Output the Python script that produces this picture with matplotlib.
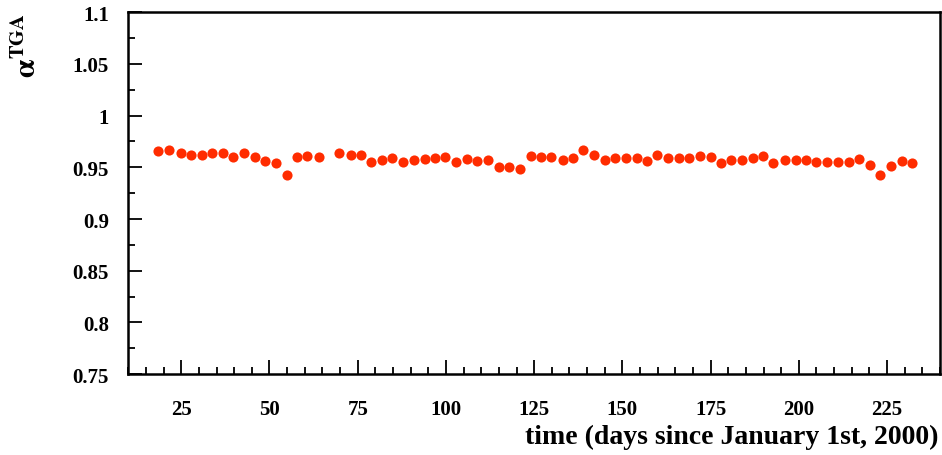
import matplotlib
matplotlib.use("Agg")
import matplotlib.pyplot as plt
from matplotlib.ticker import MultipleLocator

# time in days since Jan 1st 2000 and alpha TGA
days = [18.5, 21.6, 24.8, 27.8, 30.8, 33.8, 36.7, 39.7, 42.8, 45.8,
        48.8, 51.8, 54.9, 57.7, 60.7, 63.9,
        69.7, 73.0, 75.8, 78.7, 81.9, 84.7, 87.9, 90.9, 94.0, 97.0,
        99.8, 102.8, 105.9, 108.7, 111.9, 114.9, 117.8, 121.0,
        124.0, 126.8, 129.8, 133.1, 135.9, 138.7, 141.9, 145.0, 148.0,
        151.0, 154.0, 156.9, 159.9, 162.9, 166.1, 168.9, 172.0, 175.0,
        177.9, 180.9, 184.0, 187.1, 189.9, 192.7, 196.0, 199.1, 202.0,
        205.0, 208.0, 211.1, 214.1, 217.1, 220.1, 222.9, 226.1, 229.2,
        232.2]
alpha = [0.966, 0.967, 0.9635, 0.962, 0.962, 0.964, 0.964, 0.960, 0.964, 0.960,
         0.956, 0.954, 0.943, 0.960, 0.961, 0.960,
         0.964, 0.962, 0.962, 0.955, 0.957, 0.959, 0.955, 0.957, 0.958, 0.959,
         0.960, 0.955, 0.958, 0.956, 0.957, 0.9505, 0.9505, 0.948,
         0.961, 0.960, 0.960, 0.957, 0.959, 0.967, 0.962, 0.957, 0.959,
         0.959, 0.959, 0.9565, 0.962, 0.959, 0.959, 0.959, 0.961, 0.960,
         0.9545, 0.957, 0.957, 0.959, 0.961, 0.954, 0.957, 0.957, 0.957,
         0.955, 0.955, 0.955, 0.955, 0.958, 0.952, 0.943, 0.951, 0.956,
         0.954]

xticks = [25, 50, 75, 100, 125, 150, 175, 200, 225]
yticks = [0.75, 0.8, 0.85, 0.9, 0.95, 1.0, 1.05, 1.1]
ytick_labels = ["0.75", "0.8", "0.85", "0.9", "0.95", "1", "1.05", "1.1"]

plt.rcParams["font.family"] = ["Liberation Serif", "DejaVu Serif"]
plt.rcParams["mathtext.fontset"] = "stix"

fig = plt.figure(figsize=(9.42, 4.56), dpi=100)
ax = fig.add_axes([0.1362, 0.1776, 0.8617, 0.7932])

ax.plot(days, alpha, linestyle="none", marker="o", markersize=7.3,
        color="#ff2c00", markeredgewidth=0)

ax.set_xlim(10, 240)
ax.set_ylim(0.75, 1.1)
ax.set_xticks(xticks)
ax.set_yticks(yticks)
ax.set_yticklabels(ytick_labels)
ax.xaxis.set_minor_locator(MultipleLocator(5))
ax.yaxis.set_minor_locator(MultipleLocator(0.025))

for s in ax.spines.values():
    s.set_linewidth(1.8)
ax.tick_params(which="both", direction="in", top=False, right=False,
               width=1.3, labelsize=15)
ax.tick_params(which="major", length=10)
ax.tick_params(which="minor", length=5)
ax.tick_params(axis="y", pad=14)
ax.tick_params(axis="x", pad=18)
for lab in ax.get_xticklabels() + ax.get_yticklabels():
    lab.set_fontweight("bold")

fig.text(0.996, 0.013, "time (days since January 1st, 2000)",
         ha="right", va="bottom", fontsize=20, fontweight="bold")
fig.text(0.03, 0.97, r"$\mathbf{\alpha}^{\mathbf{TGA}}$", rotation=90,
         ha="center", va="top", fontsize=21)

fig.savefig("out.png", dpi=100)
